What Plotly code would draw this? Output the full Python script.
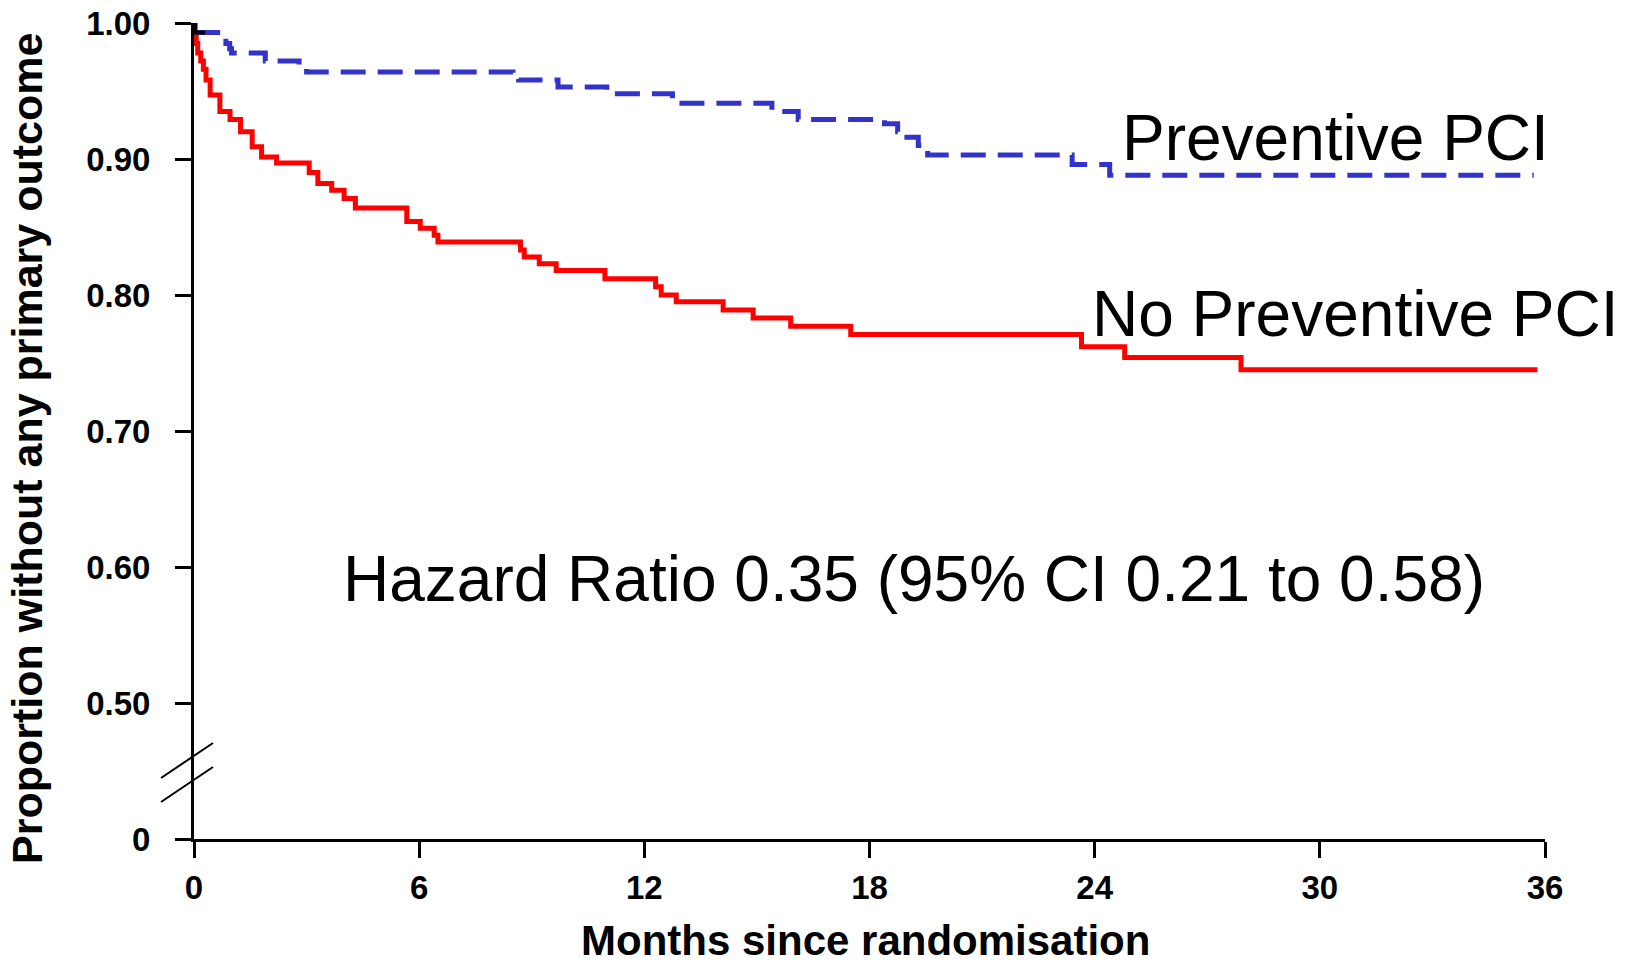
import plotly.graph_objects as go

# ---- data ----
x_ticks = [0, 6, 12, 18, 24, 30, 36]
y_ticks = [0.4, 0.5, 0.6, 0.7, 0.8, 0.9, 1.0]
y_tick_labels = ["0", "0.50", "0.60", "0.70", "0.80", "0.90", "1.00"]

# Preventive PCI: step times (months) and survival after each step
prev_time = [0.03, 0.75, 0.85, 0.95, 1.0, 1.9, 2.8, 3.0, 8.5, 8.65, 9.7, 11.0,
             12.75, 15.4, 16.1, 18.4, 18.75, 18.85, 19.3, 19.55, 23.4, 24.4, 35.7]
prev_surv = [0.993, 0.989, 0.985, 0.981, 0.978, 0.972, 0.968, 0.964, 0.961,
             0.958, 0.953, 0.948, 0.941, 0.935, 0.929, 0.926, 0.920, 0.916, 0.910,
             0.903, 0.896, 0.888, 0.888]
# very first part of the Preventive PCI curve, drawn in black in the reference
prev_start_time = [0, 0.03, 0.3]
prev_start_surv = [1.0, 0.993, 0.993]

# No preventive PCI
nopci_time = [0, 0.03, 0.06, 0.10, 0.18, 0.25, 0.32, 0.43, 0.69, 0.96, 1.24, 1.55,
              1.8, 2.2, 3.07, 3.3, 3.67, 4.0, 4.3, 5.67, 6.03, 6.4, 6.5, 8.7, 8.8,
              9.2, 9.65, 10.95, 12.3, 12.45, 12.85, 14.1, 14.9, 15.9, 17.5, 23.65,
              24.8, 27.9, 35.8]
nopci_surv = [1.0, 0.993, 0.985, 0.978, 0.972, 0.966, 0.958, 0.947, 0.935, 0.929,
              0.920, 0.909, 0.9015, 0.897, 0.890, 0.882, 0.877, 0.871, 0.864, 0.854,
              0.849, 0.844, 0.839, 0.833, 0.828, 0.823, 0.818, 0.812, 0.806, 0.800,
              0.795, 0.789, 0.783, 0.777, 0.771, 0.762, 0.754, 0.745, 0.745]

FONT = "Liberation Sans, Arial, sans-serif"

fig = go.Figure()
fig.add_trace(go.Scatter(x=nopci_time, y=nopci_surv, mode="lines", line_shape="hv",
                         line=dict(color="#FF0000", width=5), name="No Preventive PCI",
                         hoverinfo="skip"))
fig.add_trace(go.Scatter(x=prev_time, y=prev_surv, mode="lines", line_shape="hv",
                         line=dict(color="#3333CC", width=5, dash="25px,12px"),
                         name="Preventive PCI", hoverinfo="skip"))
fig.add_trace(go.Scatter(x=prev_start_time, y=prev_start_surv, mode="lines",
                         line_shape="hv", line=dict(color="#000000", width=4),
                         name="start", hoverinfo="skip"))

axis_common = dict(showline=True, linecolor="black", linewidth=3, ticks="outside",
                   ticklen=16, tickwidth=2.5, tickcolor="black", showgrid=False,
                   zeroline=False, automargin=False,
                   tickfont=dict(family=FONT, size=33, color="black", weight="bold"))
fig.update_xaxes(range=[0, 36], tickvals=x_ticks, ticklabelstandoff=1, **axis_common)
fig.update_yaxes(range=[0.4, 1.0], tickvals=y_ticks, ticktext=y_tick_labels,
                 ticklabelstandoff=18, **axis_common)

L, R, T, B = 194, 89, 23, 126
W, H = 1634, 965
pw, ph = W - L - R, H - T - B


def px(xp):
    return (xp - L) / pw


def py(yp):
    return (H - B - yp) / ph


annos = [
    dict(text="Preventive PCI", x=24.67, y=0.9154, xref="x", yref="y",
         xanchor="left", yanchor="middle", font=dict(size=64)),
    dict(text="No Preventive PCI", x=23.87, y=0.786, xref="x", yref="y",
         xanchor="left", yanchor="middle", font=dict(size=64)),
    dict(text="Hazard Ratio 0.35 (95% CI 0.21 to 0.58)", x=3.91, y=0.5915, xref="x",
         yref="y", xanchor="left", yanchor="middle", font=dict(size=64)),
    dict(text="Months since randomisation", x=px(865), y=py(940), xref="paper",
         yref="paper", xanchor="center", yanchor="middle",
         font=dict(size=42, weight="bold")),
    dict(text="Proportion without any primary outcome", x=px(27), y=py(449),
         xref="paper", yref="paper", xanchor="center", yanchor="middle",
         textangle=-90, font=dict(size=43, weight="bold")),
]
for a in annos:
    a["showarrow"] = False
    a["font"]["family"] = FONT
    a["font"]["color"] = "black"
    fig.add_annotation(**a)

# axis break marks
for (x0, y0, x1, y1) in [(161, 778, 213, 743), (161, 802, 213, 767)]:
    fig.add_shape(type="line", xref="paper", yref="paper", x0=px(x0), y0=py(y0),
                  x1=px(x1), y1=py(y1), line=dict(color="black", width=2))

fig.update_layout(width=W, height=H, margin=dict(l=L, r=R, t=T, b=B, autoexpand=False),
                  plot_bgcolor="white", paper_bgcolor="white", showlegend=False)

fig.write_html("out.html", config={"displayModeBar": False},
               post_script="document.body.style.margin='0';"
                           "document.body.style.overflow='hidden';")
